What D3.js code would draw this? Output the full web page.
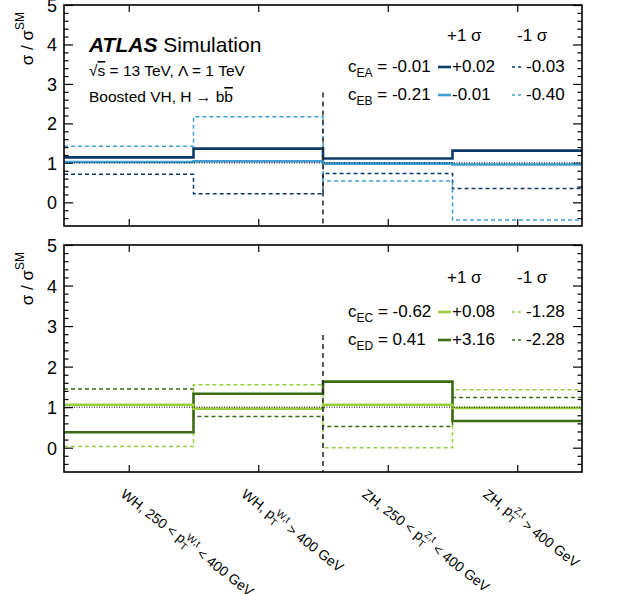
<!DOCTYPE html>
<html>
<head>
<meta charset="utf-8">
<script src="https://cdn.jsdelivr.net/npm/d3@7"></script>
<style>
  body { margin: 0; background: #fff; }
  text { font-family: "Liberation Sans", Arial, Helvetica, sans-serif; fill: #000; }
</style>
</head>
<body>
<script>
// four analysis bins
const bins = ["WH low", "WH high", "ZH low", "ZH high"];
const xPrefix = ["WH, 250 < ", "WH, ", "ZH, 250 < ", "ZH, "];
const xSup = ["W,t", "W,t", "Z,t", "Z,t"];
const xSuffix = [" < 400 GeV", " > 400 GeV", " < 400 GeV", " > 400 GeV"];
const yTicks = [0, 1, 2, 3, 4, 5];

// top panel: cEA (dark) and cEB (light)
const eaPlus = [1.14, 1.36, 1.11, 1.31];
const eaMinus = [0.71, 0.22, 0.73, 0.35];
const ebPlus = [1.02, 1.04, 0.98, 0.96];
const ebMinus = [1.42, 2.17, 0.54, -0.45];

// bottom panel: cEC (light) and cED (dark)
const ecPlus = [1.06, 0.96, 1.06, 0.98];
const ecMinus = [0.03, 1.55, 0.0, 1.43];
const edPlus = [0.38, 1.33, 1.63, 0.66];
const edMinus = [1.45, 0.77, 0.52, 1.24];

// legend texts
const topCoef = ["EA", "EB"], topCentral = ["-0.01", "-0.21"];
const topUp = ["+0.02", "-0.01"], topDown = ["-0.03", "-0.40"];
const botCoef = ["EC", "ED"], botCentral = ["-0.62", "0.41"];
const botUp = ["+0.08", "+3.16"], botDown = ["-1.28", "-2.28"];

const navy = "#0d3b69", lblue = "#3e9fd7", dgreen = "#3c6b14", lgreen = "#9acd3c";

const W = 617, H = 594;
const left = 64, right = 582;

const svg = d3.select("body").append("svg")
  .attr("width", W).attr("height", H);

const x = d3.scaleLinear().domain([0, bins.length]).range([left, right]);

function panel({ top, bottom, series, legend }) {
  const y = d3.scaleLinear().domain([-0.6, 5]).range([bottom, top]);
  const g = svg.append("g");

  const minors = d3.range(-0.4, 5.001, 0.2)
    .map(v => Math.round(v * 10) / 10)
    .filter(v => !Number.isInteger(v));

  // left axis, ticks inward
  g.append("g").attr("transform", `translate(${left},0)`)
    .call(d3.axisLeft(y).tickValues(yTicks).tickSize(-9).tickPadding(7).tickFormat(d3.format("d")))
    .call(a => a.selectAll("text").attr("font-size", 18).attr("dy", "0.36em"));
  g.append("g").attr("transform", `translate(${left},0)`)
    .call(d3.axisLeft(y).tickValues(minors).tickSize(-4.5).tickFormat(""));
  // right axis mirrored
  g.append("g").attr("transform", `translate(${right},0)`)
    .call(d3.axisRight(y).tickValues(yTicks).tickSize(-9).tickFormat(""));
  g.append("g").attr("transform", `translate(${right},0)`)
    .call(d3.axisRight(y).tickValues(minors).tickSize(-4.5).tickFormat(""));
  // x ticks at bin centres, top and bottom
  const centres = bins.map((b, i) => i + 0.5);
  g.append("g").attr("transform", `translate(0,${bottom})`)
    .call(d3.axisBottom(x).tickValues(centres).tickSize(-7).tickFormat(""));
  g.append("g").attr("transform", `translate(0,${top})`)
    .call(d3.axisTop(x).tickValues(centres).tickSize(-7).tickFormat(""));
  g.selectAll(".domain").remove();
  g.selectAll(".tick line").attr("stroke", "#000").attr("stroke-width", 1.2);

  const step = d3.line().x(d => x(d[0])).y(d => y(d[1]));
  const pts = vals => vals.flatMap((v, i) => [[i, v], [i + 1, v]]);

  series.forEach(s => {
    g.append("path")
      .attr("d", step(pts(s.values)))
      .attr("fill", "none")
      .attr("stroke", s.color)
      .attr("stroke-width", s.dashed ? 1.5 : 2.6)
      .attr("stroke-dasharray", s.dashed ? "4,3" : null);
  });

  // SM reference
  g.append("line")
    .attr("x1", left).attr("x2", right).attr("y1", y(1)).attr("y2", y(1))
    .attr("stroke", "#000").attr("stroke-width", 1).attr("stroke-dasharray", "1,1.5");

  // WH / ZH separator
  g.append("line")
    .attr("x1", x(2)).attr("x2", x(2)).attr("y1", y(2.78)).attr("y2", bottom)
    .attr("stroke", "#222").attr("stroke-width", 1.5).attr("stroke-dasharray", "5,4");

  // frame
  g.append("rect")
    .attr("x", left).attr("y", top).attr("width", right - left).attr("height", bottom - top)
    .attr("fill", "none").attr("stroke", "#000").attr("stroke-width", 1.6);

  // y title
  const yt = g.append("text")
    .attr("transform", `translate(33,${top + 7}) rotate(-90)`)
    .attr("text-anchor", "end").attr("font-size", 17);
  yt.append("tspan").text("σ / σ");
  yt.append("tspan").attr("font-size", 12).attr("dy", -9).text("SM");

  // legend
  const lg = g.append("g").attr("font-size", 17);
  lg.append("text").attr("x", 447).attr("y", top + legend.dy[0]).text("+1 σ");
  lg.append("text").attr("x", 517).attr("y", top + legend.dy[0]).text("-1 σ");
  legend.coef.forEach((c, i) => {
    const yy = top + legend.dy[i + 1];
    const t = lg.append("text").attr("x", 348).attr("y", yy);
    t.append("tspan").text("c");
    t.append("tspan").attr("font-size", 12).attr("dy", 5).text(c);
    t.append("tspan").attr("dy", -5).text(" = " + legend.central[i]);
    lg.append("line").attr("x1", 438).attr("x2", 451).attr("y1", yy - 5).attr("y2", yy - 5)
      .attr("stroke", legend.colors[i]).attr("stroke-width", 2.6);
    lg.append("text").attr("x", 452).attr("y", yy).text(legend.up[i]);
    lg.append("line").attr("x1", 512).attr("x2", 523).attr("y1", yy - 5).attr("y2", yy - 5)
      .attr("stroke", legend.colors[i]).attr("stroke-width", 1.5).attr("stroke-dasharray", "3,3");
    lg.append("text").attr("x", 526).attr("y", yy).text(legend.down[i]);
  });
  return g;
}

const gTop = panel({
  top: 5, bottom: 226,
  series: [
    { values: eaMinus, color: navy, dashed: true },
    { values: ebMinus, color: lblue, dashed: true },
    { values: eaPlus, color: navy },
    { values: ebPlus, color: lblue }
  ],
  legend: { dy: [36, 67, 95], coef: topCoef, central: topCentral, up: topUp, down: topDown, colors: [navy, lblue] }
});

panel({
  top: 245, bottom: 472,
  series: [
    { values: edMinus, color: dgreen, dashed: true },
    { values: ecMinus, color: lgreen, dashed: true },
    { values: edPlus, color: dgreen },
    { values: ecPlus, color: lgreen }
  ],
  legend: { dy: [38, 72, 100], coef: botCoef, central: botCentral, up: botUp, down: botDown, colors: [lgreen, dgreen] }
});

// experiment label
const atlas = gTop.append("text").attr("x", 89).attr("y", 52).attr("font-size", 21);
atlas.append("tspan").attr("font-weight", "bold").attr("font-style", "italic").text("ATLAS");
atlas.append("tspan").text(" Simulation");

const energy = gTop.append("text").attr("x", 89).attr("y", 76).attr("font-size", 15.5);
energy.append("tspan").text("√");
energy.append("tspan").style("text-decoration", "overline").text("s");
energy.append("tspan").text(" = 13 TeV, Λ = 1 TeV");

const chan = gTop.append("text").attr("x", 89).attr("y", 102).attr("font-size", 15.5);
chan.append("tspan").text("Boosted VH, H → b");
chan.append("tspan").style("text-decoration", "overline").text("b");

// rotated bin labels
bins.forEach((b, i) => {
  const t = svg.append("text")
    .attr("transform", `translate(${x(i + 0.5) - 9 - i * 8.7},496) rotate(38)`)
    .attr("font-size", 14);
  t.append("tspan").text(xPrefix[i] + "p");
  t.append("tspan").attr("font-size", 10).attr("dy", 4).text("T");
  t.append("tspan").attr("font-size", 10).attr("dx", -6).attr("dy", -11).text(xSup[i]);
  t.append("tspan").attr("dy", 7).text(xSuffix[i]);
});
</script>
</body>
</html>
